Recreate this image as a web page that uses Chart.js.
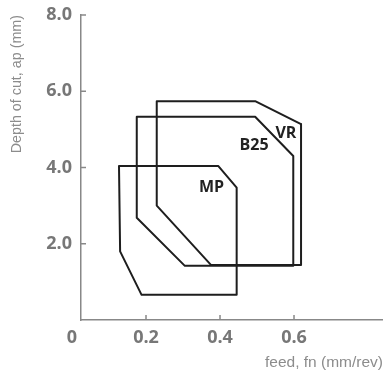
<!DOCTYPE html>
<html>
<head>
<meta charset="utf-8">
<script src="https://cdn.jsdelivr.net/npm/chart.js@4.4.0/dist/chart.umd.min.js"></script>
<style>
  html, body { margin: 0; padding: 0; background: #fff; }
</style>
</head>
<body>
<canvas id="myChart" width="383" height="373"></canvas>
<script>
// tick labels
const xTicks = [0, 0.2, 0.4, 0.6];
const yTicks = [2, 4, 6, 8];

// operating windows, feed (mm/rev) vs depth of cut (mm); first point repeated to close
const mpFeed = [0.127, 0.395, 0.445, 0.445, 0.188, 0.13, 0.127];
const mpDepth = [4.04, 4.04, 3.47, 0.66, 0.66, 1.8, 4.04];

const b25Feed = [0.175, 0.495, 0.598, 0.598, 0.305, 0.175, 0.175];
const b25Depth = [5.33, 5.33, 4.3, 1.42, 1.42, 2.68, 5.33];

const vrFeed = [0.229, 0.495, 0.619, 0.619, 0.376, 0.229, 0.229];
const vrDepth = [5.74, 5.74, 5.14, 1.44, 1.44, 3.0, 5.74];

// inline labels
const tagNames = ["MP", "B25", "VR"];
const tagFeed = [0.377, 0.492, 0.578];
const tagDepth = [3.49, 4.59, 4.9];

const toPoints = (xs, ys) => xs.map((x, i) => ({ x: x, y: ys[i] }));

const lineStyle = {
  showLine: true,
  fill: false,
  borderColor: "#1e1e1e",
  borderWidth: 2,
  borderJoinStyle: "round",
  borderCapStyle: "round",
  pointRadius: 0,
  pointHoverRadius: 0,
};

// short tick marks pointing into the plot, plus the MP/B25/VR labels
const extrasPlugin = {
  id: "extras",
  afterDatasetsDraw(chart) {
    const ctx = chart.ctx;
    const xs = chart.scales.x;
    const ys = chart.scales.y;
    const area = chart.chartArea;

    ctx.save();
    ctx.strokeStyle = "#888";
    ctx.lineWidth = 1.5;
    xTicks.forEach((v) => {
      if (v < xs.min) return;
      const px = xs.getPixelForValue(v);
      ctx.beginPath();
      ctx.moveTo(px, area.bottom);
      ctx.lineTo(px, area.bottom - 5);
      ctx.stroke();
    });
    yTicks.forEach((v) => {
      const py = ys.getPixelForValue(v);
      ctx.beginPath();
      ctx.moveTo(area.left, py);
      ctx.lineTo(area.left + 5, py);
      ctx.stroke();
    });

    ctx.fillStyle = "#222";
    ctx.font = "bold 16px 'Open Sans'";
    ctx.textAlign = "center";
    ctx.textBaseline = "middle";
    tagNames.forEach((name, i) => {
      ctx.fillText(name, xs.getPixelForValue(tagFeed[i]), ys.getPixelForValue(tagDepth[i]));
    });
    ctx.restore();
  },
};

const tickFont = { family: "'Open Sans'", size: 18, weight: "bold" };

new Chart(document.getElementById("myChart").getContext("2d"), {
  type: "scatter",
  data: {
    datasets: [
      Object.assign({ label: "MP", data: toPoints(mpFeed, mpDepth) }, lineStyle),
      Object.assign({ label: "B25", data: toPoints(b25Feed, b25Depth) }, lineStyle),
      Object.assign({ label: "VR", data: toPoints(vrFeed, vrDepth) }, lineStyle),
    ],
  },
  options: {
    responsive: false,
    animation: false,
    layout: { padding: { top: 15, right: 0, left: 0, bottom: 0 } },
    plugins: {
      legend: { display: false },
      tooltip: { enabled: false },
    },
    scales: {
      x: {
        type: "linear",
        min: 0.0243,
        max: 0.8405,
        afterBuildTicks: (s) => { s.ticks = xTicks.map((v) => ({ value: v })); },
        afterFit: (s) => { s.height = 53; s.paddingLeft = 0; s.paddingRight = 0; },
        grid: { display: false, drawTicks: false },
        border: { display: true, color: "#888", width: 1.5 },
        ticks: {
          color: "#777",
          font: tickFont,
          padding: 7,
          autoSkip: false,
          maxRotation: 0,
          callback: (v) => (v === 0 ? "0" : v.toFixed(1)),
        },
        title: {
          display: true,
          text: "feed, fn (mm/rev)",
          align: "end",
          color: "#8c8c8c",
          font: { family: "'Liberation Sans'", size: 15.5 },
          padding: { top: 0, bottom: 1 },
        },
      },
      y: {
        type: "linear",
        min: 0,
        max: 8,
        afterBuildTicks: (s) => { s.ticks = yTicks.map((v) => ({ value: v })); },
        afterFit: (s) => { s.width = 81; s.paddingTop = 0; s.paddingBottom = 0; },
        grid: { display: false, drawTicks: false },
        border: { display: true, color: "#888", width: 1.5 },
        ticks: {
          color: "#777",
          font: tickFont,
          padding: 9,
          callback: (v) => v.toFixed(1),
        },
        title: {
          display: true,
          text: "Depth of cut, ap (mm)",
          align: "end",
          color: "#8c8c8c",
          font: { family: "'Liberation Sans'", size: 14.3 },
          padding: { top: 8, bottom: 0 },
        },
      },
    },
  },
  plugins: [extrasPlugin],
});
</script>
</body>
</html>
